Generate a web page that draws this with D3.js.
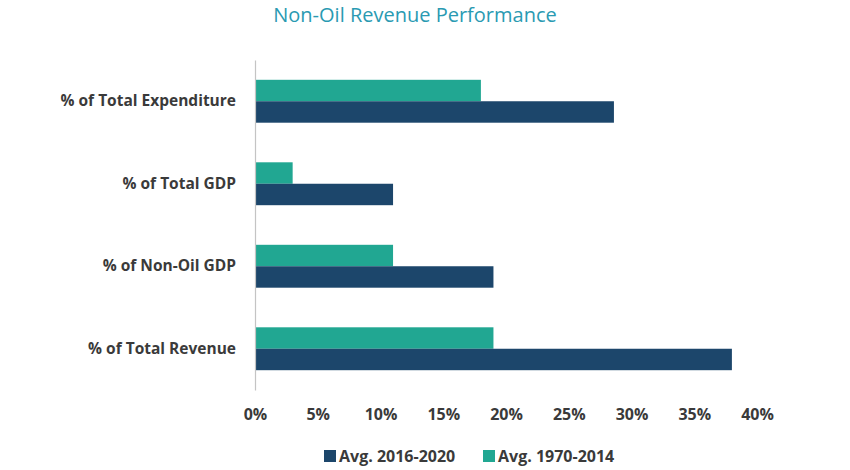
<!DOCTYPE html>
<html>
<head>
<meta charset="utf-8">
<script src="https://cdn.jsdelivr.net/npm/d3@7"></script>
<style>
  body { margin: 0; background: #fff; }
  svg { display: block; }
</style>
</head>
<body>
<svg id="chart" width="850" height="470"></svg>
<script>
const categories = ["% of Total Expenditure", "% of Total GDP", "% of Non-Oil GDP", "% of Total Revenue"];
const seriesNames = ["Avg. 1970-2014", "Avg. 2016-2020"];
const avg1970_2014 = [18, 3, 11, 19];
const avg2016_2020 = [28.6, 11, 19, 38];
const xTicks = [0, 5, 10, 15, 20, 25, 30, 35, 40];
const legendOrder = ["Avg. 2016-2020", "Avg. 1970-2014"];
const colors = { "Avg. 2016-2020": "#1c466b", "Avg. 1970-2014": "#21a792" };

const svg = d3.select("#chart");

const x = d3.scaleLinear().domain([0, 40]).range([255, 757]);
const y = d3.scaleBand().domain(categories).range([60, 390]).paddingInner(0.48).paddingOuter(0.24);
const ySub = d3.scaleBand().domain(seriesNames).range([0, y.bandwidth()]);

const data = [];
categories.forEach((c, i) => {
  data.push({ cat: c, series: "Avg. 1970-2014", value: avg1970_2014[i] });
  data.push({ cat: c, series: "Avg. 2016-2020", value: avg2016_2020[i] });
});

// Title
svg.append("text")
  .attr("x", 415).attr("y", 22)
  .attr("text-anchor", "middle")
  .attr("font-family", "'Open Sans', sans-serif")
  .attr("font-size", 20)
  .attr("fill", "#2a9ab2")
  .text("Non-Oil Revenue Performance");

// Bars
svg.append("g").selectAll("rect").data(data).join("rect")
  .attr("x", x(0))
  .attr("y", d => y(d.cat) + ySub(d.series))
  .attr("width", d => x(d.value) - x(0))
  .attr("height", ySub.bandwidth())
  .attr("fill", d => colors[d.series]);

// Y axis
const yAxis = svg.append("g")
  .attr("transform", `translate(${x(0)},0)`)
  .call(d3.axisLeft(y).tickSize(0).tickPadding(19));
yAxis.select(".domain").attr("stroke", "#c4c4c4").attr("stroke-width", 1.2);
yAxis.selectAll("text")
  .attr("font-family", "'Open Sans', sans-serif")
  .attr("font-size", 15.5)
  .attr("font-weight", "bold")
  .attr("fill", "#3a3a3a");

// X axis (labels only)
const xAxis = svg.append("g")
  .attr("transform", `translate(0,395)`)
  .call(d3.axisBottom(x).tickValues(xTicks).tickSize(0).tickPadding(14).tickFormat(d => d + "%"));
xAxis.select(".domain").remove();
xAxis.selectAll("text")
  .attr("font-family", "'Open Sans', sans-serif")
  .attr("font-size", 16)
  .attr("font-weight", "bold")
  .attr("fill", "#3a3a3a");

// Legend
const legendX = [324, 483];
const leg = svg.append("g").selectAll("g").data(legendOrder).join("g")
  .attr("transform", (d, i) => `translate(${legendX[i]},450)`);
leg.append("rect").attr("width", 12).attr("height", 12).attr("y", 0)
  .attr("fill", d => colors[d]);
leg.append("text").attr("x", 15).attr("y", 12)
  .attr("font-family", "'Open Sans', sans-serif")
  .attr("font-size", 16)
  .attr("font-weight", "bold")
  .attr("fill", "#3a3a3a")
  .text(d => d);
</script>
</body>
</html>
